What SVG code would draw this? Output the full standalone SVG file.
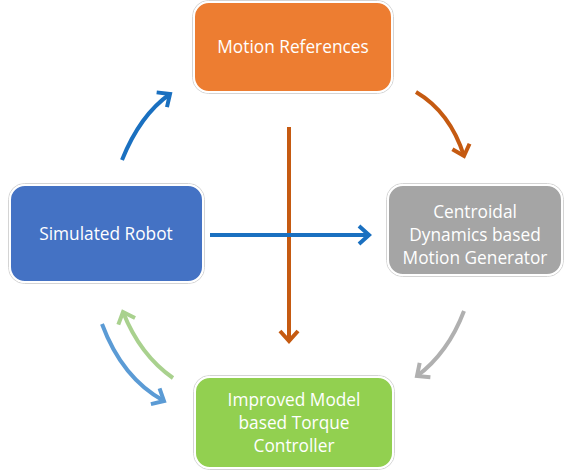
<svg xmlns="http://www.w3.org/2000/svg" width="565" height="471" viewBox="0 0 565 471">
<style>
.outer{fill:none;stroke:#d4d4d4;stroke-width:1}
.box{stroke:#ffffff;stroke-width:2}
.lbl{font-family:"Open Sans","Liberation Sans",sans-serif;font-size:17.3px;fill:#ffffff;text-anchor:middle}
.c{fill:none;stroke-width:4;stroke-linecap:butt}
</style>
<defs>
<marker id="mBlue" markerUnits="userSpaceOnUse" markerWidth="30" markerHeight="30" refX="14" refY="12" orient="auto" viewBox="0 0 30 30"><path d="M4 3 L14 12 L4 21" fill="none" stroke="#1a70c0" stroke-width="4"/></marker>
<marker id="mOrange" markerUnits="userSpaceOnUse" markerWidth="30" markerHeight="30" refX="14" refY="12" orient="auto" viewBox="0 0 30 30"><path d="M4 3 L14 12 L4 21" fill="none" stroke="#c55a11" stroke-width="4"/></marker>
<marker id="mGray" markerUnits="userSpaceOnUse" markerWidth="30" markerHeight="30" refX="14" refY="12" orient="auto" viewBox="0 0 30 30"><path d="M4 3 L14 12 L4 21" fill="none" stroke="#b0b0b0" stroke-width="4"/></marker>
<marker id="mLBlue" markerUnits="userSpaceOnUse" markerWidth="30" markerHeight="30" refX="14" refY="12" orient="auto" viewBox="0 0 30 30"><path d="M4 3 L14 12 L4 21" fill="none" stroke="#5b9bd5" stroke-width="4"/></marker>
<marker id="mGreen" markerUnits="userSpaceOnUse" markerWidth="30" markerHeight="30" refX="14" refY="12" orient="auto" viewBox="0 0 30 30"><path d="M4 3 L14 12 L4 21" fill="none" stroke="#a9d18e" stroke-width="4"/></marker>
</defs>

<g id="node-motion-references">
<rect class="outer" x="192.5" y="0.5" width="201" height="93" rx="16"/>
<rect class="box" x="194" y="2" width="198" height="90" rx="15" fill="#ed7d31"/>
<text class="lbl" x="293" y="53">Motion References</text>
</g>

<g id="node-centroidal">
<rect class="outer" x="386.5" y="183.5" width="177" height="93" rx="16"/>
<rect class="box" x="388" y="185" width="174" height="90" rx="15" fill="#a5a5a5"/>
<text class="lbl" x="475" y="218">Centroidal</text>
<text class="lbl" x="475" y="241">Dynamics based</text>
<text class="lbl" x="475" y="264">Motion Generator</text>
</g>

<g id="node-simulated-robot">
<rect class="outer" x="8.5" y="183.5" width="196" height="100" rx="16"/>
<rect class="box" x="10" y="185" width="193" height="97" rx="15" fill="#4472c4"/>
<text class="lbl" x="106" y="240">Simulated Robot</text>
</g>

<g id="node-torque-controller">
<rect class="outer" x="193.5" y="375.5" width="201" height="94" rx="16"/>
<rect class="box" x="195" y="377" width="198" height="91" rx="15" fill="#92d050"/>
<text class="lbl" x="294" y="406">Improved Model</text>
<text class="lbl" x="294" y="429">based Torque</text>
<text class="lbl" x="294" y="452">Controller</text>
</g>

<g id="connectors">
<path class="c" d="M122 160 Q140 115 170 94" stroke="#1a70c0" marker-end="url(#mBlue)"/>
<path class="c" d="M416 92 Q450 112 464 156" stroke="#c55a11" marker-end="url(#mOrange)"/>
<path class="c" d="M289 127 L289 341" stroke="#c55a11" marker-end="url(#mOrange)"/>
<path class="c" d="M210 235 L369 235" stroke="#1a70c0" marker-end="url(#mBlue)"/>
<path class="c" d="M464 311 Q448 353 417 376" stroke="#b0b0b0" marker-end="url(#mGray)"/>
<path class="c" d="M102 324 Q122 378 164 401" stroke="#5b9bd5" marker-end="url(#mLBlue)"/>
<path class="c" d="M173 378 Q140 355 123 312" stroke="#a9d18e" marker-end="url(#mGreen)"/>
</g>
</svg>
